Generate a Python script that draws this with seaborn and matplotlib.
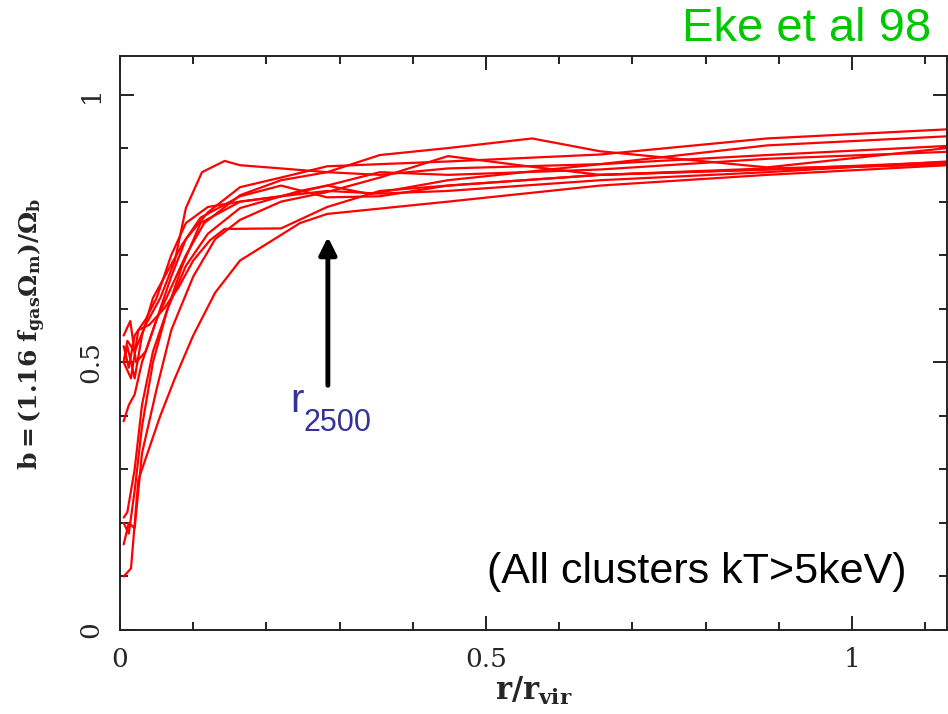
import numpy as np
import pandas as pd
import matplotlib
matplotlib.use("Agg")
import matplotlib.pyplot as plt
import seaborn as sns
from matplotlib.ticker import MultipleLocator

# ---- data ----
c1_x = [0.005, 0.01, 0.02, 0.035, 0.055, 0.075, 0.09, 0.112, 0.143, 0.164, 0.22, 0.283, 0.355, 0.448, 0.656, 0.884, 1.13]
c1_y = [0.50, 0.54, 0.52, 0.57, 0.62, 0.69, 0.788, 0.855, 0.876, 0.868, 0.862, 0.855, 0.85, 0.862, 0.87, 0.887, 0.904]
c2_x = [0.005, 0.012, 0.02, 0.03, 0.05, 0.07, 0.09, 0.115, 0.164, 0.22, 0.283, 0.355, 0.448, 0.563, 0.656, 0.884, 1.13]
c2_y = [0.39, 0.42, 0.44, 0.50, 0.58, 0.64, 0.70, 0.76, 0.812, 0.84, 0.855, 0.887, 0.90, 0.918, 0.894, 0.864, 0.90]
c3_x = [0.005, 0.014, 0.022, 0.035, 0.05, 0.07, 0.09, 0.12, 0.164, 0.22, 0.283, 0.355, 0.448, 0.656, 0.884, 1.13]
c3_y = [0.55, 0.577, 0.50, 0.52, 0.58, 0.66, 0.73, 0.78, 0.827, 0.845, 0.866, 0.87, 0.875, 0.888, 0.918, 0.935]
c4_x = [0.005, 0.01, 0.02, 0.03, 0.045, 0.065, 0.09, 0.12, 0.164, 0.246, 0.283, 0.342, 0.448, 0.656, 0.884, 1.13]
c4_y = [0.21, 0.22, 0.30, 0.42, 0.52, 0.60, 0.68, 0.74, 0.788, 0.82, 0.83, 0.814, 0.84, 0.87, 0.905, 0.922]
c5_x = [0.005, 0.012, 0.02, 0.03, 0.05, 0.07, 0.1, 0.13, 0.164, 0.22, 0.283, 0.355, 0.448, 0.563, 0.656, 0.884, 1.13]
c5_y = [0.16, 0.20, 0.19, 0.33, 0.45, 0.56, 0.66, 0.73, 0.766, 0.80, 0.818, 0.845, 0.885, 0.865, 0.85, 0.86, 0.874]
c6_x = [0.005, 0.015, 0.025, 0.04, 0.06, 0.08, 0.1, 0.123, 0.143, 0.22, 0.283, 0.355, 0.448, 0.656, 0.884, 1.13]
c6_y = [0.50, 0.47, 0.56, 0.57, 0.60, 0.64, 0.69, 0.728, 0.749, 0.75, 0.79, 0.82, 0.83, 0.85, 0.862, 0.87]
c7_x = [0.005, 0.015, 0.025, 0.04, 0.055, 0.075, 0.1, 0.13, 0.164, 0.246, 0.283, 0.448, 0.656, 0.884, 1.13]
c7_y = [0.10, 0.115, 0.28, 0.34, 0.40, 0.47, 0.55, 0.63, 0.69, 0.76, 0.777, 0.80, 0.83, 0.85, 0.868]
c8_x = [0.005, 0.01, 0.02, 0.03, 0.045, 0.065, 0.085, 0.11, 0.164, 0.22, 0.283, 0.355, 0.448, 0.656, 0.884, 1.13]
c8_y = [0.50, 0.53, 0.47, 0.55, 0.62, 0.67, 0.72, 0.77, 0.81, 0.83, 0.808, 0.81, 0.83, 0.85, 0.86, 0.87]
c9_x = [0.005, 0.012, 0.02, 0.03, 0.045, 0.065, 0.085, 0.11, 0.164, 0.22, 0.283, 0.355, 0.448, 0.656, 0.884, 1.13]
c9_y = [0.20, 0.18, 0.26, 0.38, 0.50, 0.60, 0.68, 0.76, 0.80, 0.81, 0.83, 0.855, 0.85, 0.86, 0.88, 0.893]
c10_x = [0.005, 0.012, 0.02, 0.035, 0.05, 0.07, 0.09, 0.12, 0.164, 0.22, 0.283, 0.355, 0.448, 0.656, 0.884, 1.13]
c10_y = [0.53, 0.49, 0.55, 0.58, 0.62, 0.70, 0.76, 0.79, 0.80, 0.81, 0.82, 0.815, 0.82, 0.84, 0.855, 0.875]

curves_x = [c1_x, c2_x, c3_x, c4_x, c5_x, c6_x, c7_x, c8_x, c9_x, c10_x]
curves_y = [c1_y, c2_y, c3_y, c4_y, c5_y, c6_y, c7_y, c8_y, c9_y, c10_y]

x_ticks = [0, 0.5, 1]
x_ticklabels = ["0", "0.5", "1"]
y_ticks = [0, 0.5, 1]
y_ticklabels = ["0", "0.5", "1"]
r2500 = 0.284

rows = []
for i, (xs, ys) in enumerate(zip(curves_x, curves_y)):
    for k, (xv, yv) in enumerate(zip(xs, ys)):
        rows.append({"cluster": i, "order": k, "r": xv, "b": yv})
df = pd.DataFrame(rows)

sns.set_style("ticks")
plt.rcParams["mathtext.fontset"] = "dejavuserif"

fig = plt.figure(figsize=(9.48, 7.14), dpi=100)
ax = fig.add_axes([0.1266, 0.1176, 0.8724, 0.804])

sns.lineplot(data=df, x="r", y="b", units="cluster", estimator=None,
             sort=False, color="#ff0000", linewidth=1.6, ax=ax, legend=False)

ax.set_xlim(0, 1.13)
ax.set_ylim(0, 1.072)

ax.set_xticks(x_ticks)
ax.set_xticklabels(x_ticklabels)
ax.set_yticks(y_ticks)
ax.set_yticklabels(y_ticklabels, rotation=90, va="center")
ax.xaxis.set_minor_locator(MultipleLocator(0.1))
ax.yaxis.set_minor_locator(MultipleLocator(0.1))
ax.tick_params(which="both", direction="in", top=True, right=True,
               width=1.4, color="#222222")
ax.tick_params(which="major", length=10, pad=12, labelsize=19)
ax.tick_params(which="minor", length=5.5)
for lab in ax.get_xticklabels() + ax.get_yticklabels():
    lab.set_family("DejaVu Serif")
for s in ax.spines.values():
    s.set_linewidth(1.4)
    s.set_color("#222222")

ax.set_xlabel(r"$\mathbf{r/r_{vir}}$", fontsize=22, labelpad=2)
ax.set_ylabel(r"$\mathbf{b{=}(1.16\ f_{gas}\Omega_{m})/\Omega_{b}}$", fontsize=18)
ax.yaxis.set_label_coords(-0.087, 0.515)

ax.annotate("", xy=(r2500, 0.734), xytext=(r2500, 0.457),
            arrowprops=dict(arrowstyle="-|>", lw=3.5, color="black",
                            mutation_scale=26, shrinkA=0, shrinkB=0))
ax.text(0.232, 0.407, "r", color="#333399", fontsize=29,
        family="Liberation Sans", va="baseline", ha="left")
ax.text(0.251, 0.372, "2500", color="#333399", fontsize=22,
        family="Liberation Sans", va="baseline", ha="left")
ax.text(0.501, 0.088, "(All clusters kT>5keV)", fontsize=31,
        family="Liberation Sans", color="black", ha="left", va="baseline")
fig.text(0.982, 0.942, "Eke et al 98", fontsize=34, family="Liberation Sans",
         color="#00c800", ha="right", va="baseline")

fig.savefig("out.png", dpi=100, facecolor="white")
